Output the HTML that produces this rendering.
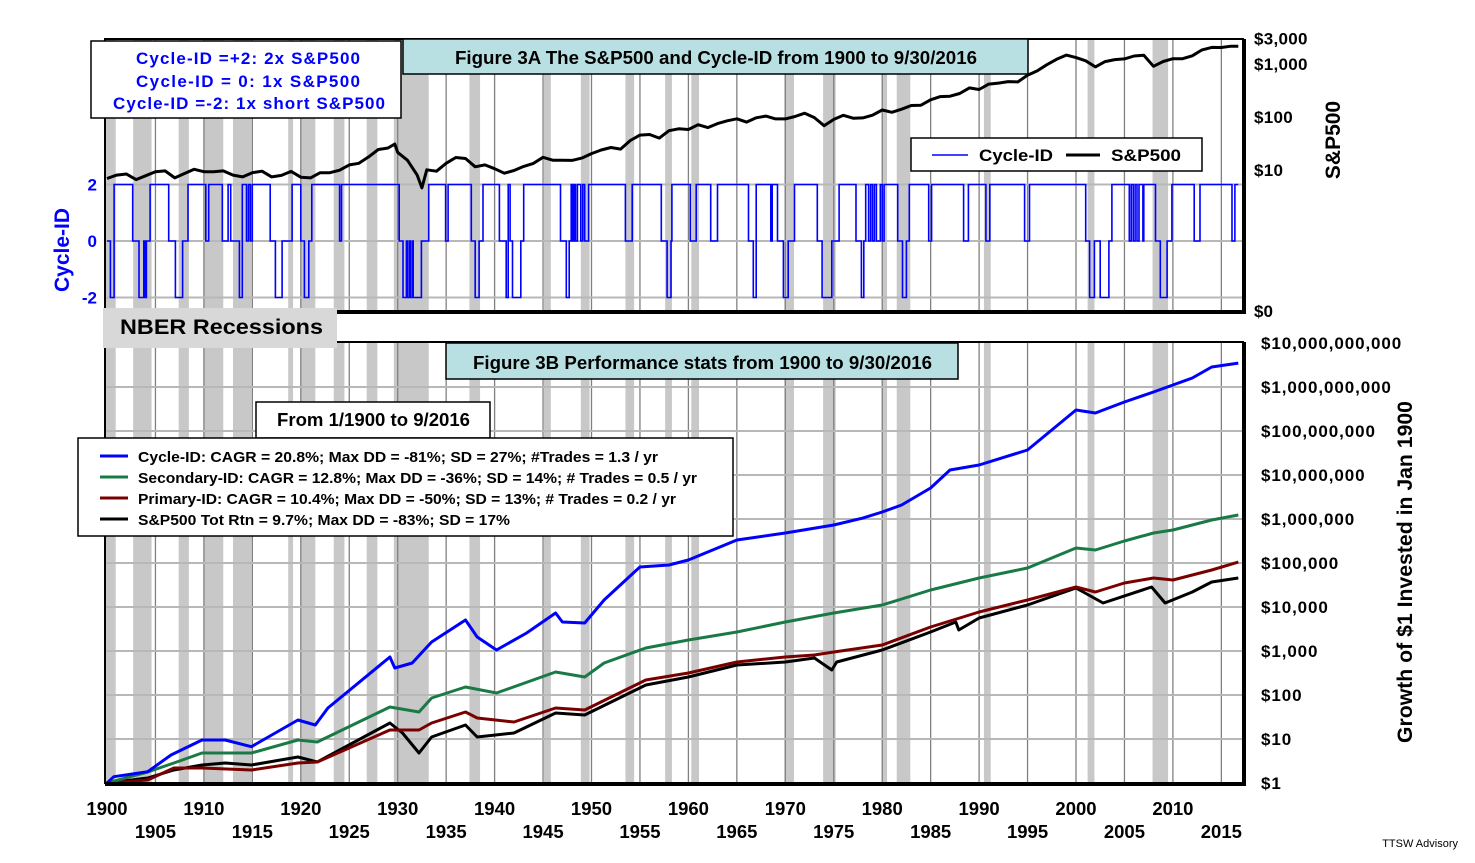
<!DOCTYPE html>
<html><head><meta charset="utf-8"><style>
html,body{margin:0;padding:0;background:#fff;}
svg{display:block;font-family:"Liberation Sans",Arial,sans-serif;}
</style></head><body>
<svg id="chart" width="1475" height="863" viewBox="0 0 1475 863" xmlns="http://www.w3.org/2000/svg">
<rect width="1475" height="863" fill="#fff"/>
<g id="bg"></g>
<g id="grid"></g>
<g id="series"></g>
<g id="frames"></g>
<g id="labels" font-weight="bold" font-size="17" fill="#000"></g>
</svg>
<script>
// ---- data ----
const recStart = [1899.5,1902.7,1907.4,1910.0,1913.0,1918.7,1920.0,1923.4,1926.8,1929.6,1937.4,1945.1,1948.9,1953.5,1957.6,1960.3,1969.9,1973.9,1980.0,1981.5,1990.5,2001.2,2007.9];
const recEnd   = [1900.9,1904.6,1908.45,1912.0,1914.9,1919.2,1921.5,1924.5,1927.9,1933.2,1938.5,1945.8,1949.8,1954.4,1958.3,1961.1,1970.9,1975.2,1980.5,1982.9,1991.2,2001.9,2009.5];

const spYears = [1900,1901,1902,1903,1904,1905,1906,1907,1908,1909,1910,1911,1912,1913,1914,1915,1916,1917,1918,1919,1920,1921,1922,1923,1924,1925,1926,1927,1928,1929,1929.7,1930,1931,1932,1932.5,1933,1934,1935,1936,1937,1938,1939,1940,1941,1942,1943,1944,1945,1946,1947,1948,1949,1950,1951,1952,1953,1954,1955,1956,1957,1958,1959,1960,1961,1962,1963,1964,1965,1966,1967,1968,1969,1970,1971,1972,1973,1974,1975,1976,1977,1978,1979,1980,1981,1982,1983,1984,1985,1986,1987,1988,1989,1990,1991,1992,1993,1994,1995,1996,1997,1998,1999,2000,2001,2002,2003,2004,2005,2006,2007,2008,2009,2010,2011,2012,2013,2014,2015,2016,2016.75];
const spVals = [6.9,8.0,8.4,6.6,7.8,9.3,9.6,7.1,8.6,10.3,9.3,9.3,9.6,8.0,7.4,8.9,9.5,7.4,7.9,9.4,7.3,7.1,8.9,8.9,9.9,12.5,13.4,17.7,24.4,26,31,21.5,15.3,8.1,4.6,10.1,9.5,13.4,17.2,16.5,11.5,12.5,10.6,8.7,9.8,11.7,13.3,17.4,15.3,15.3,15.2,16.8,20.4,23.8,26.6,24.8,35.98,45.5,46.7,39.99,55.2,59.9,58.1,71.6,63.1,75.0,84.8,92.4,80.3,96.5,103.9,92.1,92.2,102.1,118.1,97.6,68.6,90.2,107.5,95.1,96.1,107.9,135.8,122.6,140.6,164.9,167.2,211.3,242.2,247.1,277.7,353.4,330.2,417.1,435.7,466.5,459.3,615.9,740.7,970.4,1229,1469,1320,1148,880,1112,1212,1248,1418,1468,903,1115,1258,1258,1426,1848,2059,2044,2168,2168];

const cycleYears = [1900,1900.35,1900.73,1902.65,1903.3,1903.8,1903.95,1904.07,1904.45,1906.37,1907.06,1907.8,1908.36,1910.2,1910.5,1911.9,1912.5,1912.77,1913.66,1913.96,1914.4,1914.6,1914.8,1915.0,1916.84,1917.38,1918.07,1919.1,1920.0,1920.37,1920.83,1921.14,1924.0,1924.2,1930.15,1930.55,1930.9,1931.0,1931.2,1931.3,1931.5,1931.6,1932.45,1933.2,1934.94,1935.2,1937.6,1938.0,1938.4,1938.8,1940.5,1941.2,1941.4,1941.6,1941.85,1942.7,1943.0,1946.8,1947.4,1947.7,1947.9,1948.05,1948.2,1948.35,1948.55,1948.9,1949.1,1949.3,1949.7,1953.5,1954.2,1957.2,1957.8,1958.2,1958.3,1960.2,1960.8,1962.3,1963.0,1966.2,1966.7,1967.0,1968.5,1968.65,1969.2,1969.8,1970.3,1970.95,1973.3,1973.8,1974.8,1975.55,1977.3,1977.85,1978.1,1978.3,1978.6,1978.8,1979.0,1979.2,1979.4,1979.8,1980.0,1980.2,1981.6,1982.1,1982.5,1982.8,1984.8,1985.1,1988.4,1988.9,1990.7,1991.1,1994.7,1995.2,2001.0,2001.4,2001.9,2002.5,2003.4,2003.7,2005.5,2005.7,2005.9,2006.1,2006.3,2006.5,2006.9,2007.0,2008.2,2008.7,2009.4,2009.9,2012.2,2012.8,2016.1,2016.4,2016.75];
const cycleVals = [0,-2,2,0,-2,0,-2,0,2,0,-2,0,2,0,2,0,2,0,-2,2,0,2,0,2,0,-2,0,2,0,-2,0,2,0,2,0,-2,0,-2,0,-2,0,-2,0,2,0,2,0,-2,0,2,0,-2,2,0,-2,0,2,0,-2,0,2,0,2,0,2,0,2,0,2,0,2,0,-2,0,2,0,2,0,2,0,-2,2,0,2,0,-2,0,2,0,-2,0,2,0,-2,0,2,0,2,0,2,0,2,0,2,0,-2,0,2,0,2,0,2,0,2,0,2,0,-2,0,-2,0,2,0,2,0,2,0,2,0,2,0,-2,0,2,0,2,0,2,2];

const blueYears = [1900,1900.7,1904.2,1906.6,1909.8,1912.2,1914.9,1919.7,1921.5,1922.8,1929.2,1929.7,1931.5,1933.5,1937.0,1938.2,1940.2,1943.3,1946.3,1947,1949.3,1951.3,1955,1958,1960,1965,1970,1975,1978,1980,1982,1985,1987,1990,1995,2000,2002,2005,2008,2010,2012,2014,2016.75];
const blueVals = [1,1.39,1.81,4.33,9.5,9.5,6.7,27,20.8,50.7,731,411,534,1602,5070,2080,1054,2565,7310,4560,4330,14400,81100,90100,117000,333000,481000,731000,1.05e6,1.44e6,2.08e6,5.07e6,1.3e7,1.69e7,3.7e7,3.0e8,2.57e8,4.56e8,7.7e8,1.11e9,1.6e9,2.85e9,3.5e9];

const greenYears = [1900,1904.2,1906.9,1909.8,1914.9,1919.7,1921.7,1929.2,1932.2,1933.5,1937,1940.2,1946.3,1949.3,1951.3,1955.6,1960,1965,1970,1975,1980,1985,1990,1995,2000,2002,2005,2008,2010,2014,2016.75];
const greenVals = [1,1.78,2.85,4.8,4.8,9.5,8.55,53.4,41,85.5,152,111,333,257,534,1170,1780,2700,4560,7310,11100,24300,45600,76900,219000,197000,316000,481000,562000,949000,1.23e6];

const redYears = [1900,1904.2,1906.9,1909.8,1914.9,1919.7,1921.7,1929.2,1932.2,1933.5,1937,1938.2,1942,1946.3,1949.3,1955.6,1960,1965,1970,1973,1975,1980,1985,1990,1995,2000,2002,2005,2008,2010,2014,2016.75];
const redVals = [1,1.17,2.19,2.19,1.97,2.85,3.0,16,16,23.1,41.1,30,24.3,50.7,45.6,219,316,562,731,811,949,1370,3510,7690,14400,28500,21900,35100,45600,41100,69300,105000];

const blackYears = [1900,1904.2,1906.9,1909.8,1912.2,1914.9,1919.7,1921.7,1929.2,1930.5,1932.2,1933.5,1937,1938.2,1942,1946.3,1949.3,1955.6,1960,1965,1970,1973,1974.8,1975.3,1980,1985,1987.6,1987.9,1990,1995,2000,2002.8,2007.8,2009.2,2012,2014,2016.75];
const blackVals = [1,1.3,1.97,2.57,2.85,2.57,3.9,3.0,23.1,13.7,4.8,11.1,20.8,11.1,13.7,39,35.1,169,257,481,562,693,370,562,1054,2700,4560,3000,5620,11100,27000,12300,28500,12300,21900,37000,45600];

const bottomTicks = ["$1","$10","$100","$1,000","$10,000","$100,000","$1,000,000","$10,000,000","$100,000,000","$1,000,000,000","$10,000,000,000"];
const topTickVals = [3000,1000,100,10];
const topTickLabels = ["$3,000","$1,000","$100","$10"];
const cycleTicks = [2,0,-2];
const decadeLabels = [1900,1910,1920,1930,1940,1950,1960,1970,1980,1990,2000,2010];
const halfLabels = [1905,1915,1925,1935,1945,1955,1965,1975,1985,1995,2005,2015];

// ---- geometry ----
const L=105, R=1243, T1=39, B1=311, T2=342, B2=783;
const X = y => 107 + (y-1900)*9.69;
const Ytop = v => 64 + (3 - Math.log10(v))*53;
const Ycyc = v => 241 - v*28.25;
const Ybot = v => 783 - Math.log10(v)*44;
const NS="http://www.w3.org/2000/svg";
function mk(tag, attrs, parent){const e=document.createElementNS(NS,tag);for(const k in attrs)e.setAttribute(k,attrs[k]);parent.appendChild(e);return e;}
const bg=document.getElementById('bg'), grid=document.getElementById('grid'), ser=document.getElementById('series'), fr=document.getElementById('frames'), lab=document.getElementById('labels');

recStart.forEach((s,i)=>{
  const x0=Math.max(L,X(s)), x1=X(recEnd[i]);
  [[T1,B1],[T2,B2]].forEach(([t,b])=>{
    const r=mk('rect',{x:x0,y:t,width:x1-x0,height:b-t,fill:'#c8c8c8'},bg);
    
    
  });
});
for(let yr=1905; yr<=2015; yr+=5){
  [[T1,B1],[T2,B2]].forEach(([t,b])=>{
    const l=mk('line',{x1:X(yr),x2:X(yr),y1:t,y2:b,stroke:'#808080','stroke-width':1.3},grid);
    
    
  });
}
cycleTicks.forEach(v=>{
  const l=mk('line',{x1:L,x2:R,y1:Ycyc(v),y2:Ycyc(v),stroke:'#b8b8b8','stroke-width':2},grid);
  
  
});
for(let d=1; d<10; d++){
  const y=Ybot(Math.pow(10,d));
  const l=mk('line',{x1:L,x2:R,y1:y,y2:y,stroke:'#b8b8b8','stroke-width':2},grid);
  
  
}
function linePath(xs, vs, yf){return xs.map((x,i)=>(i?'L':'M')+X(x).toFixed(1)+','+yf(vs[i]).toFixed(1)).join('');}
let cd='';
cycleYears.forEach((t,i)=>{
  const x=X(t), y=Ycyc(cycleVals[i]);
  cd += (i? 'L'+x.toFixed(1)+','+Ycyc(cycleVals[i-1]).toFixed(1)+'L' : 'M') + x.toFixed(1)+','+y.toFixed(1);
});
const cyc=mk('path',{d:cd,fill:'none',stroke:'#0000ff','stroke-width':1.6},ser);


const sp=mk('path',{d:linePath(spYears,spVals,Ytop),fill:'none',stroke:'#000','stroke-width':3,'stroke-linejoin':'round'},ser);


const specs=[[blackYears,blackVals,'#000','sp500-total-return-line'],[redYears,redVals,'#7a0000','primary-id-line'],[greenYears,greenVals,'#1a7a45','secondary-id-line'],[blueYears,blueVals,'#0000ff','cycle-id-growth-line']];
specs.forEach(([xs,vs,c,n])=>{
  const p=mk('path',{d:linePath(xs,vs,Ybot),fill:'none',stroke:c,'stroke-width':3,'stroke-linejoin':'round'},ser);
  
  
});
[[T1,B1,'top-panel-frame'],[T2,B2,'bottom-panel-frame']].forEach(([t,b,n])=>{
  const r=mk('rect',{x:L,y:t,width:R-L,height:b-t,fill:'none',stroke:'#000','stroke-width':2},fr);
  
  
  mk('line',{x1:R+1,x2:R+1,y1:t,y2:b+3,stroke:'#000','stroke-width':4},fr);
  mk('line',{x1:L,x2:R+3,y1:b+1,y2:b+1,stroke:'#000','stroke-width':4},fr);
});
function txt(s,attrs,name){const e=mk('text',attrs,lab);e.textContent=s;return e;}
topTickVals.forEach((v,i)=>txt(topTickLabels[i],{x:1254,y:Ytop(v)+6,'letter-spacing':0.3},'sp500-axis-tick'));
txt('$0',{x:1254,y:B1+6},'sp500-axis-tick');
cycleTicks.forEach(v=>txt(String(v),{x:97,y:Ycyc(v)+6,'text-anchor':'end',fill:'#0000ff'},'cycle-axis-tick'));
bottomTicks.forEach((s,i)=>txt(s,{x:1261,y:Ybot(Math.pow(10,i))+6,'letter-spacing':0.9},'growth-axis-tick'));
decadeLabels.forEach(y=>txt(String(y),{x:X(y),y:815,'text-anchor':'middle','font-size':18.5},'x-tick-label'));
halfLabels.forEach(y=>txt(String(y),{x:X(y),y:838,'text-anchor':'middle','font-size':18.5},'x-tick-label'));
</script>
<svg style="position:absolute;left:0;top:0" width="1475" height="863">
<g font-family="Liberation Sans, Arial, sans-serif" font-weight="bold">
<text x="69" y="250" transform="rotate(-90 69 250)" text-anchor="middle" font-size="21" fill="#0000ff">Cycle-ID</text>
<text x="1340" y="140" transform="rotate(-90 1340 140)" text-anchor="middle" font-size="21">S&amp;P500</text>
<text x="1412" y="572" transform="rotate(-90 1412 572)" text-anchor="middle" font-size="21" textLength="342" lengthAdjust="spacingAndGlyphs">Growth of $1 Invested in Jan 1900</text>

<g font-size="17" fill="#0000ff">
<rect x="91" y="41" width="310" height="77" fill="#fff" stroke="#000" stroke-width="1.5"/>
<text x="136" y="64" textLength="224" lengthAdjust="spacing">Cycle-ID =+2: 2x S&amp;P500</text>
<text x="136" y="87" textLength="224" lengthAdjust="spacing">Cycle-ID =  0:  1x S&amp;P500</text>
<text x="113" y="109" textLength="272" lengthAdjust="spacing">Cycle-ID =-2: 1x short S&amp;P500</text>
</g>
<g>
<rect x="403" y="39" width="625" height="35" fill="#b8e0e2" stroke="#000" stroke-width="1.5"/>
<text x="455" y="64" font-size="18" textLength="522" lengthAdjust="spacingAndGlyphs">Figure 3A The S&amp;P500 and Cycle-ID from 1900 to 9/30/2016</text>
</g>
<g font-size="17">
<rect x="911" y="138" width="291" height="33" fill="#fff" stroke="#000" stroke-width="1.5"/>
<line x1="932" y1="155" x2="968" y2="155" stroke="#0000ff" stroke-width="1.5"/>
<text x="979" y="161" textLength="74" lengthAdjust="spacingAndGlyphs">Cycle-ID</text>
<line x1="1066" y1="155" x2="1100" y2="155" stroke="#000" stroke-width="3"/>
<text x="1111" y="161" textLength="70" lengthAdjust="spacingAndGlyphs">S&amp;P500</text>
</g>
<g>
<rect x="103" y="308" width="234" height="40" fill="#d8d8d8"/>
<text x="120" y="334" font-size="21" textLength="203" lengthAdjust="spacingAndGlyphs">NBER Recessions</text>
</g>
<g>
<rect x="446" y="343" width="512" height="36" fill="#b8e0e2" stroke="#000" stroke-width="1.5"/>
<text x="473" y="369" font-size="18" textLength="459" lengthAdjust="spacingAndGlyphs">Figure 3B Performance stats from 1900 to 9/30/2016</text>
</g>
<g>
<rect x="256" y="402" width="234" height="36" fill="#fff" stroke="#000" stroke-width="1.5"/>
<text x="277" y="426" font-size="18" textLength="193" lengthAdjust="spacingAndGlyphs">From 1/1900 to 9/2016</text>
</g>
<g font-size="15">
<rect x="78" y="438" width="655" height="98" fill="#fff" stroke="#000" stroke-width="1.5"/>
<line x1="100" y1="456" x2="128" y2="456" stroke="#0000ff" stroke-width="3"/>
<text x="138" y="462" textLength="520" lengthAdjust="spacingAndGlyphs">Cycle-ID: CAGR = 20.8%; Max DD = -81%; SD = 27%; #Trades = 1.3 / yr</text>
<line x1="100" y1="477" x2="128" y2="477" stroke="#1a7a45" stroke-width="3"/>
<text x="138" y="483" textLength="559" lengthAdjust="spacingAndGlyphs">Secondary-ID: CAGR = 12.8%; Max DD = -36%;  SD = 14%; # Trades = 0.5 / yr</text>
<line x1="100" y1="498" x2="128" y2="498" stroke="#7a0000" stroke-width="3"/>
<text x="138" y="504" textLength="538" lengthAdjust="spacingAndGlyphs">Primary-ID: CAGR = 10.4%; Max DD = -50%; SD = 13%; # Trades = 0.2 / yr</text>
<line x1="100" y1="519" x2="128" y2="519" stroke="#000" stroke-width="3"/>
<text x="138" y="525" textLength="372" lengthAdjust="spacingAndGlyphs">S&amp;P500 Tot Rtn = 9.7%; Max DD = -83%; SD = 17%</text>
</g>
<text x="1458" y="847" text-anchor="end" font-size="11" font-weight="normal">TTSW Advisory</text>
</g>
</svg>
</body></html>
